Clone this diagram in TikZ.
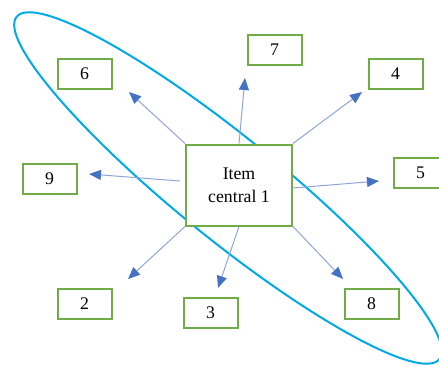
\documentclass[tikz,border=0pt]{standalone}
\usepackage{fontspec}
\setmainfont{Liberation Serif}
\usetikzlibrary{arrows.meta,calc}
\definecolor{boxgreen}{RGB}{112,173,71}
\definecolor{ellblue}{RGB}{0,170,230}
\definecolor{linegray}{RGB}{143,165,215}
\definecolor{tipblue}{RGB}{68,114,196}
\begin{document}
\begin{tikzpicture}[x=0.75pt,y=-0.75pt,
  numbox/.style={draw=boxgreen,line width=1.5pt,fill=white,minimum width=40.5pt,minimum height=22.5pt,inner sep=0pt,font=\fontsize{13.3}{16}\selectfont},
  centbox/.style={draw=boxgreen,line width=1.5pt,fill=white,minimum width=79.5pt,minimum height=60.75pt,inner sep=0pt,align=center,font=\fontsize{13.3}{17.25}\selectfont},
  ray/.style={draw=linegray,line width=0.75pt,-{Triangle[length=9pt,width=7.5pt,color=tipblue]}},
  oval/.style={draw=ellblue,line width=1.5pt}]
\useasboundingbox (0,0) rectangle (439,365);
\clip (0,0) rectangle (439,365);
% ellipse
\draw[oval, rotate around={-39:(228,188)}] (228,188) ellipse [x radius=204pt, y radius=38.25pt];
% centre box
\node[centbox] (c) at (239,185) {Item\\central 1};
% arrow tips
\coordinate (t6) at (129,92);
\coordinate (t9) at (89,174);
\coordinate (t7) at (245,78);
\coordinate (t4) at (362,92);
\coordinate (t5) at (379,181);
\coordinate (t2) at (128,279);
\coordinate (t3) at (218,288);
\coordinate (t8) at (343,279);
\coordinate (s9) at ($(c.west)+(-5,-4)$);
\coordinate (s5) at ($(c.east)+(0,3)$);
% arrows
\draw[ray] (c.north west) -- (t6);
\draw[ray] (s9) -- (t9);
\draw[ray] (c.north) -- (t7);
\draw[ray] (c.north east) -- (t4);
\draw[ray] (s5) -- (t5);
\draw[ray] (c.south west) -- (t2);
\draw[ray] (c.south) -- (t3);
\draw[ray] (c.south east) -- (t8);
% number boxes
\node[numbox] (n6) at (84.5,73.5) {6};
\node[numbox] (n9) at (49.5,178.5) {9};
\node[numbox] (n7) at (274.5,50) {7};
\node[numbox] (n4) at (395.5,73.5) {4};
\node[numbox] (n5) at (420.5,173) {5};
\node[numbox] (n2) at (84.5,303.5) {2};
\node[numbox] (n3) at (210.5,312.5) {3};
\node[numbox] (n8) at (371.5,303.5) {8};
\end{tikzpicture}
\end{document}
